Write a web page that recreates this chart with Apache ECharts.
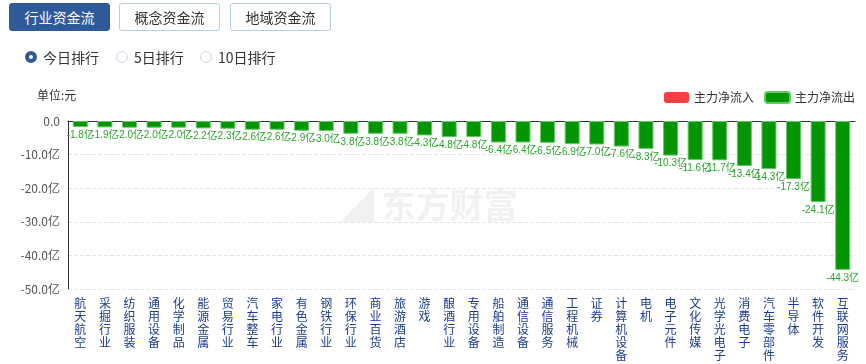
<!DOCTYPE html>
<html>
<head>
<meta charset="utf-8">
<script src="https://cdn.jsdelivr.net/npm/echarts@6/dist/echarts.min.js"></script>
<style>
html,body{margin:0;padding:0;width:866px;height:364px;overflow:hidden;background:#fff;font-family:"Noto Sans CJK SC","Noto Sans",sans-serif;}
#chart{position:absolute;left:0;top:0;width:866px;height:364px;}
.btn{position:absolute;top:3px;height:28px;width:101px;box-sizing:border-box;border:1px solid #b9cde4;border-radius:3px;font-size:14px;line-height:26px;text-align:center;color:#333;background:#fff;}
.btn.on{background:#2f5a9a;border-color:#2f5a9a;color:#fff;}
.radio{position:absolute;top:49px;font-size:14px;line-height:16px;color:#333;}
.radio i{position:absolute;left:0;top:2px;width:12px;height:12px;box-sizing:border-box;border:1px solid #c9d6e6;border-radius:50%;background:#fff;}
.radio.on i{border:4px solid #2f5a9a;}
.radio span{position:absolute;left:18px;top:0;white-space:nowrap;}
.unit{position:absolute;left:37px;top:86px;font-size:12px;color:#333;}
</style>
</head>
<body>
<div id="chart"></div>
<div class="btn on" style="left:9px">行业资金流</div>
<div class="btn" style="left:119px">概念资金流</div>
<div class="btn" style="left:230px">地域资金流</div>
<div class="radio on" style="left:25px"><i></i><span>今日排行</span></div>
<div class="radio" style="left:116px"><i></i><span>5日排行</span></div>
<div class="radio" style="left:200px"><i></i><span>10日排行</span></div>
<div class="unit">单位:元</div>
<script>
var categories = ["航天航空","采掘行业","纺织服装","通用设备","化学制品","能源金属","贸易行业","汽车整车","家电行业","有色金属","钢铁行业","环保行业","商业百货","旅游酒店","游戏","酿酒行业","专用设备","船舶制造","通信设备","通信服务","工程机械","证券","计算机设备","电机","电子元件","文化传媒","光学光电子","消费电子","汽车零部件","半导体","软件开发","互联网服务"];
var outflow = [-1.8,-1.9,-2.0,-2.0,-2.0,-2.2,-2.3,-2.6,-2.6,-2.9,-3.0,-3.8,-3.8,-3.8,-4.3,-4.8,-4.8,-6.4,-6.4,-6.5,-6.9,-7.0,-7.6,-8.3,-10.3,-11.6,-11.7,-13.4,-14.3,-17.3,-24.1,-44.3];
var inflow = [];
var yTicks = [-50,-40,-30,-20,-10,0];

var chart = echarts.init(document.getElementById('chart'));
chart.setOption({
  animation:false,
  textStyle:{fontFamily:'"Noto Sans CJK SC","Noto Sans",sans-serif'},
  graphic:[{
    type:'text', left:340, top:188, z:0, silent:true,
    style:{text:'◢ 东方财富', fill:'#f1f1f1', font:'bold 34px "Noto Sans CJK SC"'}
  }],
  legend:{
    right:6, top:86, itemWidth:25, itemHeight:11, itemGap:10,
    icon:'roundRect',
    textStyle:{fontSize:12,color:'#333'},
    data:['主力净流入','主力净流出']
  },
  grid:{left:68,right:11,top:121,bottom:75},
  xAxis:[{
    type:'category', data:categories, position:'bottom',
    axisLine:{show:false}, axisTick:{show:false},
    axisLabel:{interval:0, margin:8, color:'#1b3c96', fontSize:12, lineHeight:13, verticalAlign:'top',
      formatter:function(v){return v.split('').join('\n');}}
  },{
    type:'category', data:categories, position:'top',
    axisLine:{show:true,lineStyle:{color:'#333',width:1}}, axisTick:{show:false}, axisLabel:{show:false}
  }],
  yAxis:{
    type:'value', min:-50, max:0, interval:10,
    axisLine:{show:true,lineStyle:{color:'#333'}}, axisTick:{show:false},
    axisLabel:{color:'#555',fontSize:12,margin:8,formatter:function(v){return v===0?'0.0':v.toFixed(1)+'亿';}},
    splitLine:{show:true,lineStyle:{color:'#e3e3e3',type:'dashed'}}
  },
  series:[{
    name:'主力净流入', type:'bar', stack:'a', data:inflow, barWidth:15,
    itemStyle:{color:'#f44040'}
  },{
    name:'主力净流出', type:'bar', stack:'a', data:outflow, barWidth:15,
    itemStyle:{color:'#049504', borderColor:'#63c963', borderWidth:1},
    label:{show:true, position:'bottom', distance:3, color:'#2aa52a', fontSize:10,
      fontFamily:'"Liberation Sans","Noto Sans CJK SC",sans-serif',
      formatter:function(p){return p.value.toFixed(1)+'亿';}}
  }]
});
</script>
</body>
</html>
